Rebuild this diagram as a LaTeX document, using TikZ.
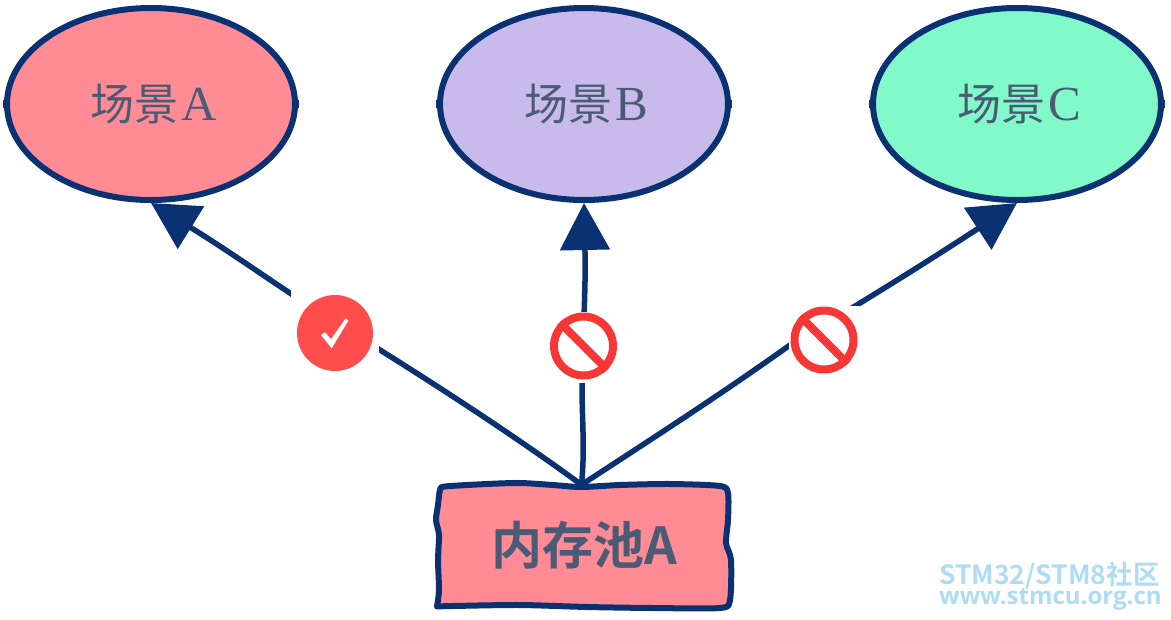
\documentclass[tikz,border=0pt]{standalone}
\usepackage{fontspec}
\usetikzlibrary{arrows.meta,shapes.geometric}
\newfontfamily\cjkfont{Noto Sans CJK SC}
\newfontfamily\cjkbold{Noto Sans CJK SC Bold}
\newfontfamily\latserif{Liberation Serif}
\newfontfamily\wmfont{Open Sans}
\definecolor{navy}{HTML}{0A3172}
\definecolor{pinkfill}{HTML}{FF8C94}
\definecolor{lavfill}{HTML}{C8BBEC}
\definecolor{mintfill}{HTML}{82F9C9}
\definecolor{inktext}{HTML}{4B5B75}
\definecolor{okred}{HTML}{FF4D4D}
\definecolor{nored}{HTML}{F73636}
\definecolor{wmblue}{HTML}{AEDCF2}
\newcommand{\sceneText}[1]{\kern5pt{\cjkfont 场景}\kern3pt{\fontsize{49}{49}\selectfont\latserif #1}}
\tikzset{
  scene/.style={ellipse,draw=navy,line width=6pt,inner sep=0pt,minimum width=288pt,minimum height=192pt,text=inktext,font=\fontsize{44}{44}\selectfont},
  tick/.style={draw=navy,line width=2.5pt},
  link/.style={draw=navy,line width=5.5pt,-{Triangle[length=47pt,width=49pt]}},
  gapbox/.style={fill=white,inner sep=0pt,rectangle},
  okdisc/.style={circle,fill=okred,inner sep=0pt,minimum size=76pt},
  nodisc/.style={circle,draw=nored,fill=white,line width=8pt,inner sep=0pt,minimum size=59pt},
  nobar/.style={draw=nored,line width=8pt},
  wmark/.style={text=wmblue,inner sep=0pt,anchor=base west}
}
\begin{document}
\begin{tikzpicture}[x=1pt,y=-1pt]
\useasboundingbox (0,0) rectangle (1171,619);
\node[scene,fill=pinkfill] (ea) at (151,104) {\sceneText{A}};
\node[scene,fill=lavfill] (eb) at (584,104) {\sceneText{B}};
\node[scene,fill=mintfill] (ec) at (1017,104) {\sceneText{C}};
\draw[tick] ([yshift=4pt]ea.west) -- ([yshift=-4pt]ea.west);
\draw[tick] ([yshift=4pt]ea.east) -- ([yshift=-4pt]ea.east);
\draw[tick] ([yshift=4pt]eb.west) -- ([yshift=-4pt]eb.west);
\draw[tick] ([yshift=4pt]eb.east) -- ([yshift=-4pt]eb.east);
\draw[tick] ([yshift=4pt]ec.west) -- ([yshift=-4pt]ec.west);
\draw[tick] ([yshift=4pt]ec.east) -- ([yshift=-4pt]ec.east);
% hand-drawn box
\draw[navy,line width=6pt,fill=pinkfill,line join=round,line cap=round] plot[smooth,tension=.45] coordinates {
 (437,606.5) (439,590) (438,560) (439,535) (436,520) (438,505) (440,490) (445,486.5)
 (487,484) (520,483) (553,485) (581,487) (620,485) (670,484) (720,486) (728,493)
 (728,520) (726,543) (731,560) (730,600) (720,608) (653,608) (587,607) (520,605) (453,606) (437,606.5)};
\node[text=inktext,inner sep=0pt,minimum width=292pt,minimum height=121pt,font=\fontsize{51}{51}\selectfont] (box) at (584.5,545.5) {\cjkbold 内存池A};
% connectors
\draw[link] ([xshift=-3pt]box.north) .. controls (500,425) and (400,362) .. (335,322) .. controls (280,288) and (240,258) .. (ea.south);
\draw[link] ([xshift=-3pt]box.north) .. controls (585,450) and (582,420) .. (582,385) .. controls (582,340) and (586,300) .. (eb.south);
\draw[link] ([xshift=-3pt]box.north) .. controls (650,440) and (720,395) .. (790,345) .. controls (860,304) and (930,260) .. (ec.south);
% gaps and badges
\node[gapbox,minimum width=88pt,minimum height=90pt] (gapa) at (335,325) {};
\node[gapbox,minimum width=76pt,minimum height=71pt] (gapb) at (583.5,347.5) {};
\node[gapbox,minimum width=71pt,minimum height=70pt] (gapc) at (824.5,341) {};
\node[okdisc] (ok) at (335,333) {};
\fill[white] (321,335) -- (325,332.3) -- (331,339.3) -- (345.7,318.3) -- (348.3,320.7) -- (331.7,348.3) -- cycle;
\node[nodisc] (nob) at (583.5,346) {};
\draw[nobar] (nob.135) -- (nob.-45);
\node[nodisc] (noc) at (824,340) {};
\draw[nobar] (noc.135) -- (noc.-45);
% watermark
\node[wmark,font=\fontsize{26.5}{26.5}\selectfont] (wm1) at (939,584) {\cjkbold STM32/STM8社区};
\node[wmark,font=\fontsize{24}{24}\selectfont\bfseries] (wm2) at (939,604) {\wmfont\bfseries www.stmcu.org.cn};
\end{tikzpicture}
\end{document}
